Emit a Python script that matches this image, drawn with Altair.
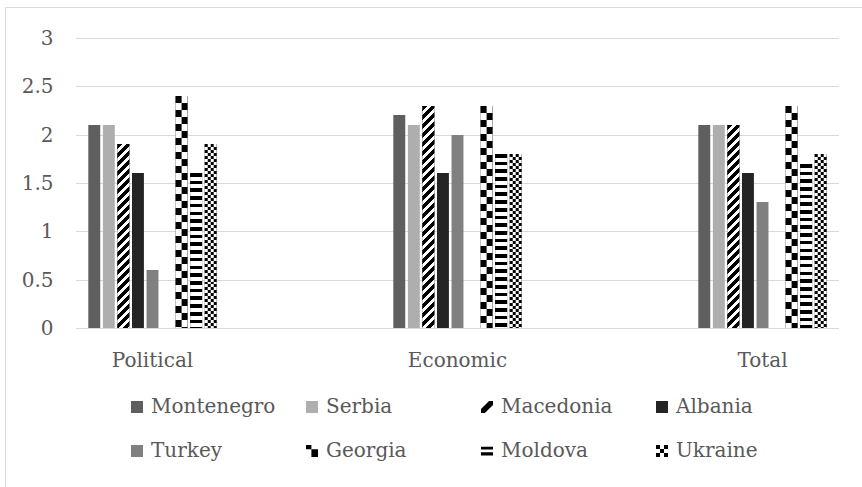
import altair as alt
import pandas as pd

# ---------------- data ----------------
categories = ["Political", "Economic", "Total"]
series = ["Montenegro", "Serbia", "Macedonia", "Albania",
          "Turkey", "Georgia", "Moldova", "Ukraine"]
montenegro = [2.1, 2.2, 2.1]
serbia = [2.1, 2.1, 2.1]
macedonia = [1.9, 2.3, 2.1]
albania = [1.6, 1.6, 1.6]
turkey = [0.6, 2.0, 1.3]
georgia = [2.4, 2.3, 2.3]
moldova = [1.6, 1.8, 1.7]
ukraine = [1.9, 1.8, 1.8]
y_ticks = [0, 0.5, 1, 1.5, 2, 2.5, 3]

values_by_series = {
    "Montenegro": montenegro, "Serbia": serbia, "Macedonia": macedonia,
    "Albania": albania, "Turkey": turkey, "Georgia": georgia,
    "Moldova": moldova, "Ukraine": ukraine,
}
rows = [
    {"category": c, "series": s, "value": values_by_series[s][i]}
    for s in series for i, c in enumerate(categories)
]
df = pd.DataFrame(rows)
ticks_df = pd.DataFrame({"tick": y_ticks})

# ---------------- styling / layout ----------------
W, H = 763, 290
Y_MAX = 3
FONT = "DejaVu Serif"
TEXT = "#595959"
GRID = "#d9d9d9"

solid_colors = {
    "Montenegro": "#5f5f5f", "Serbia": "#aeaeae", "Macedonia": "#000000",
    "Albania": "#242424", "Turkey": "#808080", "Georgia": "#000000",
    "Moldova": "#000000", "Ukraine": "#000000",
}

slots = series[:5] + [" "] + series[5:]          # empty slot between Turkey and Georgia
OFF_RANGE = (87, 218)
PAD_IN, PAD_OUT = 0.18, 0.09
step = (OFF_RANGE[1] - OFF_RANGE[0]) / (len(slots) - PAD_IN + 2 * PAD_OUT)
BW = step * (1 - PAD_IN)                          # bar width in px


def px(v):
    return v * H / Y_MAX


x_scale = alt.Scale(domain=categories, range=[-76, 839], paddingInner=0, paddingOuter=0)
y_scale = alt.Scale(domain=[0, Y_MAX], round=True)

x_axis = alt.Axis(title=None, domain=False, ticks=False, grid=False,
                  labelAngle=0, labelPadding=22, labelFont=FONT,
                  labelFontSize=20, labelColor=TEXT)
y_axis = alt.Axis(title=None, values=y_ticks, format="~g", domain=False,
                  ticks=False, grid=False,
                  labelPadding=23, labelFont=FONT, labelFontSize=20,
                  labelColor=TEXT)


def off_scale(shift=0.0):
    return alt.Scale(domain=slots,
                     range=[OFF_RANGE[0] + shift, OFF_RANGE[1] + shift],
                     paddingInner=PAD_IN, paddingOuter=PAD_OUT)


def stripe_stops(length, period, black, phase=0.0, ink="black", paper="white"):
    stops = [{"offset": 0, "color": paper}]
    s = (phase % period) - period
    while s < length:
        a, b = max(s, 0.0), min(s + black, length)
        if b > a:
            oa, ob = round(a / length, 5), round(b / length, 5)
            stops += [{"offset": oa, "color": paper}, {"offset": oa, "color": ink},
                      {"offset": ob, "color": ink}, {"offset": ob, "color": paper}]
        s += period
    stops.append({"offset": 1, "color": paper})
    return stops


def hgrad(h, period, black, phase=0.0):
    return {"gradient": "linear", "x1": 0, "y1": 0, "x2": 0, "y2": 1,
            "stops": stripe_stops(h, period, black, phase)}


def dgrad(w, h, period, black):
    m = (w + h) / (w * w + h * h)
    return {"gradient": "linear", "x1": 0, "y1": 0,
            "x2": round(w * m, 5), "y2": round(h * m, 5),
            "stops": stripe_stops(w + h, period, black)}


shape_expr = (
    "datum.value === 'Macedonia' ? 'M-1,1L-0.35,1L1,-0.35L1,-1L0.35,-1L-1,0.35Z' : "
    "datum.value === 'Georgia' ? 'M-1,-1H-0.1V-0.3H-1Z M-0.1,-0.3H1V1H-0.1Z' : "
    "datum.value === 'Moldova' ? 'M-1,-0.7H1V-0.25H-1Z M-1,0.2H1V0.75H-1Z' : "
    "datum.value === 'Ukraine' ? 'M-1,-1H-0.33V-0.33H-1Z M0.33,-1H1V-0.33H0.33Z "
    "M-0.33,-0.33H0.33V0.33H-0.33Z M-1,0.33H-0.33V1H-1Z M0.33,0.33H1V1H0.33Z' : 'square'"
)

legend = alt.Legend(
    title=None, orient="none", legendX=51, legendY=359, direction="horizontal",
    columns=4, gridAlign="all", columnPadding=26, rowPadding=24,
    labelFont=FONT, labelFontSize=20, labelColor=TEXT, labelOffset=4, labelLimit=400,
    symbolSize=144, symbolType=alt.ExprRef(expr=shape_expr), symbolStrokeWidth=0,
)

# horizontal gridlines (drawn from the tick list through the y scale)
grid = alt.Chart(ticks_df).mark_rule(color=GRID, strokeWidth=1, yOffset=0.5).encode(
    y=alt.Y("tick:Q", scale=y_scale, axis=y_axis),
    x=alt.value(0), x2=alt.value(W),
)

base = alt.Chart(df).mark_bar().encode(
    x=alt.X("category:N", sort=categories, scale=x_scale, axis=x_axis),
    xOffset=alt.XOffset("series:N", scale=off_scale()),
    y=alt.Y("value:Q", scale=y_scale, axis=y_axis),
    color=alt.Color("series:N", scale=alt.Scale(domain=series,
                                                range=[solid_colors[s] for s in series]),
                    legend=legend),
)


def overlay(s, i, fill, width=None, shift=0.0):
    kw = {"fill": fill}
    if width is not None:
        kw["width"] = round(width, 3)
    return alt.Chart(df).transform_filter(
        (alt.datum.series == s) & (alt.datum.category == categories[i])
    ).mark_bar(**kw).encode(
        x=alt.X("category:N", sort=categories, scale=x_scale, axis=x_axis),
        xOffset=alt.XOffset("series:N", scale=off_scale(shift)),
        y=alt.Y("value:Q", scale=y_scale, axis=y_axis),
    )


layers = [grid, base]
for i in range(len(categories)):
    # Macedonia: diagonal stripes
    layers.append(overlay("Macedonia", i, dgrad(BW, px(macedonia[i]), 9.0, 5.0)))
    # Moldova: horizontal stripes
    layers.append(overlay("Moldova", i, hgrad(px(moldova[i]), 7.7, 3.6)))
    # Georgia: large two-column checker
    hg = px(georgia[i])
    layers.append(overlay("Georgia", i, hgrad(hg, 14.0, 7.0, 0.0)))
    layers.append(overlay("Georgia", i, hgrad(hg, 14.0, 7.0, 7.0), width=BW / 2, shift=BW / 4))
    # Ukraine: small checker
    hu = px(ukraine[i])
    cell = BW / 4
    layers.append(overlay("Ukraine", i, hgrad(hu, 2 * cell, cell, 0.0)))
    layers.append(overlay("Ukraine", i, hgrad(hu, 2 * cell, cell, cell), width=cell, shift=-cell / 2))
    layers.append(overlay("Ukraine", i, hgrad(hu, 2 * cell, cell, cell), width=cell, shift=1.5 * cell))

frame = alt.Chart(pd.DataFrame({"k": [0]})).mark_rect(
    fill="transparent", stroke=GRID, strokeWidth=1
).encode(
    x=alt.value(-70.5), x2=alt.value(W + 200),
    y=alt.value(-30.5), y2=alt.value(H + 300),
)
layers.append(frame)

chart = alt.layer(*layers).resolve_scale(xOffset="independent").properties(
    width=W, height=H,
    padding={"left": 76, "top": 38, "right": 23, "bottom": 159},
    autosize=alt.AutoSizeParams(type="none"),
    background="white",
).configure_view(stroke=None)

chart.save("out.html", embed_options={"renderer": "svg", "actions": False})
